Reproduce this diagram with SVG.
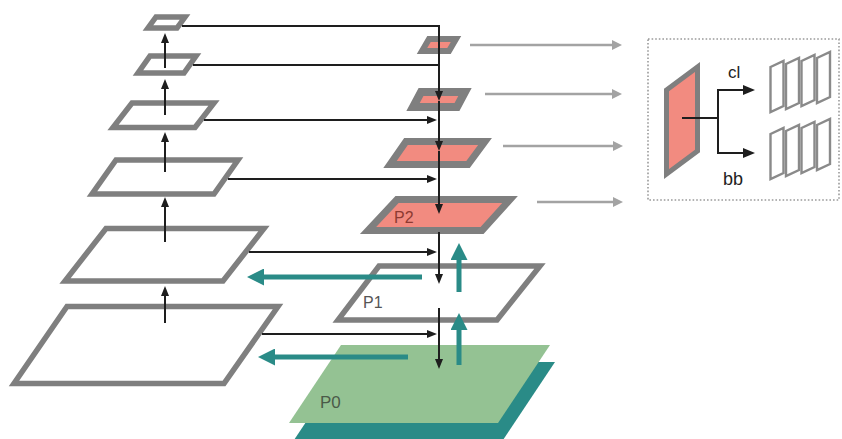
<svg xmlns="http://www.w3.org/2000/svg" width="842" height="439" viewBox="0 0 842 439">
  <style>
    .lvl { fill: #ffffff; stroke: #7f7f7f; stroke-width: 5.5; stroke-linejoin: miter; }
    .feat { fill: #f28b80; stroke: #7f7f7f; stroke-linejoin: miter; }
    .frame { fill: #ffffff; stroke: #8a8a8a; stroke-width: 2.4; }
    .blk { fill: none; stroke: #1e1e1e; stroke-width: 2; }
    .tl { fill: none; stroke: #2a8b87; stroke-width: 5; }
    .gr { fill: none; stroke: #a3a3a3; stroke-width: 2.4; }
    .lbl { font-family: "Liberation Sans", Arial, sans-serif; }
  </style>
  <defs>
    <marker id="ahK" markerUnits="userSpaceOnUse" markerWidth="10" markerHeight="8" viewBox="0 0 10 8" refX="0" refY="4" orient="auto">
      <path d="M0,0 L10,4 L0,8 z" fill="#1e1e1e"/>
    </marker>
    <marker id="ahB" markerUnits="userSpaceOnUse" markerWidth="12" markerHeight="10" viewBox="0 0 12 10" refX="0" refY="5" orient="auto">
      <path d="M0,0 L12,5 L0,10 z" fill="#1e1e1e"/>
    </marker>
    <marker id="ahT" markerUnits="userSpaceOnUse" markerWidth="17" markerHeight="17" viewBox="0 0 17 17" refX="0" refY="8.5" orient="auto">
      <path d="M0,0 L17,8.5 L0,17 z" fill="#2a8b87"/>
    </marker>
    <marker id="ahG" markerUnits="userSpaceOnUse" markerWidth="10" markerHeight="10" viewBox="0 0 10 10" refX="0" refY="5" orient="auto">
      <path d="M0,0 L10,5 L0,10 z" fill="#a3a3a3"/>
    </marker>
    <!-- one slanted output map -->
    <polygon id="map" class="frame" points="0,9 13,3 13,48 0,54"/>
  </defs>

  <!-- bottom-up pathway -->
  <g id="c6"><polygon class="lvl" points="156,17 185,17 177,28 148,28"/></g>
  <g id="c5"><polygon class="lvl" points="150,56 196,56 184,73 138,73"/></g>
  <g id="c4"><polygon class="lvl" points="132,103 214,103 195,127.5 113,127.5"/></g>
  <g id="c3"><polygon class="lvl" points="116,160 238,160 214,194 92,194"/></g>
  <g id="c2"><polygon class="lvl" points="106,228.5 264,228.5 223,281 65,281"/></g>
  <g id="c1"><polygon class="lvl" points="67,306.5 278,306.5 224,383.5 14,383.5"/></g>

  <!-- top-down pathway -->
  <g id="p0">
    <polygon points="346,362 555,362 503,440 294,440" fill="#2a8b87"/>
    <polygon points="341,345 550,345 498,423 289,423" fill="#94c293"/>
    <text class="lbl" x="320" y="408" font-size="17" fill="#4b5a49">P0</text>
  </g>
  <g id="p1">
    <polygon class="lvl" points="379,266 540,266 497,320 338,320" stroke-width="6"/>
    <text class="lbl" x="363" y="308" font-size="16" fill="#555555">P1</text>
  </g>
  <g id="p2">
    <polygon class="feat" points="397,199.5 510,199.5 482,230.5 368,230.5" stroke-width="7"/>
    <text class="lbl" x="394" y="223" font-size="16" fill="#8e3a31">P2</text>
  </g>
  <g id="p3"><polygon class="feat" points="406,141.5 485,141.5 468,164.5 390,164.5" stroke-width="7"/></g>
  <g id="p4"><polygon class="feat" points="421,92 465,92 457,107 413,107" stroke-width="8"/></g>
  <g id="p5"><polygon class="feat" points="429,39 456,39 449,51 422,51" stroke-width="6"/></g>

  <!-- prediction head -->
  <g id="head">
    <rect x="648" y="39" width="191" height="161" fill="none" stroke="#9a9a9a" stroke-width="1.6" stroke-dasharray="1.6 2"/>
    <polygon class="feat" points="666.5,90 697.5,67 697.5,151 666.5,174" stroke-width="5"/>
    <path class="blk" d="M682,118 H718 M718,89 V154"/>
    <path class="blk" d="M718,90 H743" marker-end="url(#ahB)"/>
    <path class="blk" d="M718,153 H743" marker-end="url(#ahB)"/>
    <text class="lbl" x="728" y="78" font-size="17" fill="#222222">cl</text>
    <text class="lbl" x="723" y="185" font-size="18" fill="#222222">bb</text>
  </g>
  <g id="cls-maps">
    <use href="#map" x="770.5" y="58"/>
    <use href="#map" x="786" y="55"/>
    <use href="#map" x="801.5" y="52"/>
    <use href="#map" x="817" y="49"/>
  </g>
  <g id="box-maps">
    <use href="#map" x="770.5" y="125"/>
    <use href="#map" x="786" y="122"/>
    <use href="#map" x="801.5" y="119"/>
    <use href="#map" x="817" y="116"/>
  </g>

  <g id="connectors">
    <!-- upward arrows of the backbone -->
    <line class="blk" x1="165" y1="323" x2="165" y2="296" marker-end="url(#ahK)"/>
    <line class="blk" x1="165" y1="242" x2="165" y2="207" marker-end="url(#ahK)"/>
    <line class="blk" x1="165" y1="172" x2="165" y2="142" marker-end="url(#ahK)"/>
    <line class="blk" x1="165" y1="115" x2="165" y2="89" marker-end="url(#ahK)"/>
    <line class="blk" x1="165" y1="68" x2="165" y2="43" marker-end="url(#ahK)"/>

    <!-- lateral connections -->
    <path class="blk" d="M182,26 H439 V91" marker-end="url(#ahK)"/>
    <path class="blk" d="M193,65 H439"/>
    <line class="blk" x1="439" y1="101" x2="439" y2="141" marker-end="url(#ahK)"/>
    <line class="blk" x1="439" y1="151" x2="439" y2="204" marker-end="url(#ahK)"/>
    <line class="blk" x1="439" y1="232" x2="439" y2="274" marker-end="url(#ahK)"/>
    <line class="blk" x1="439" y1="308" x2="439" y2="359" marker-end="url(#ahK)"/>
    <line class="blk" x1="204" y1="120" x2="427" y2="120" marker-end="url(#ahK)"/>
    <line class="blk" x1="228" y1="179" x2="427" y2="179" marker-end="url(#ahK)"/>
    <line class="blk" x1="249" y1="252" x2="427" y2="252" marker-end="url(#ahK)"/>
    <line class="blk" x1="262" y1="334" x2="427" y2="334" marker-end="url(#ahK)"/>

    <!-- teal arrows -->
    <line class="tl" x1="459" y1="292" x2="459" y2="260" marker-end="url(#ahT)"/>
    <line class="tl" x1="459" y1="365" x2="459" y2="330" marker-end="url(#ahT)"/>
    <line class="tl" x1="422" y1="277" x2="264" y2="277" marker-end="url(#ahT)"/>
    <line class="tl" x1="408" y1="357" x2="275" y2="357" marker-end="url(#ahT)"/>

    <!-- to the prediction head -->
    <line class="gr" x1="470" y1="45" x2="612" y2="45" marker-end="url(#ahG)"/>
    <line class="gr" x1="485" y1="94" x2="612" y2="94" marker-end="url(#ahG)"/>
    <line class="gr" x1="503" y1="146" x2="613" y2="146" marker-end="url(#ahG)"/>
    <line class="gr" x1="537" y1="202" x2="613" y2="202" marker-end="url(#ahG)"/>
  </g>
</svg>
